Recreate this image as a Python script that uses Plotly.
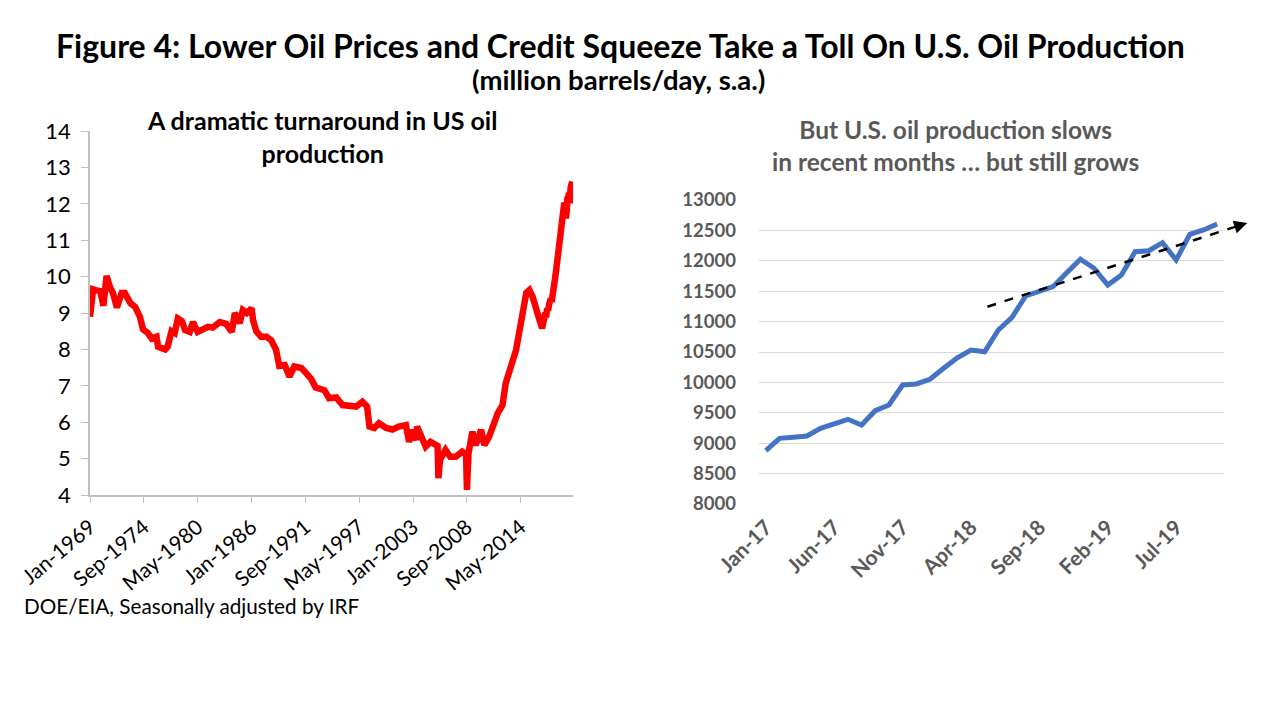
import pandas as pd
import plotly.graph_objects as go

# ---------------- Left panel data (million barrels/day) ----------------
left_dates = [
    "1969-01", "1969-05", "1969-09", "1970-02", "1970-06", "1970-08", "1970-10",
    "1971-02", "1971-06", "1971-11", "1972-05", "1972-09", "1973-04", "1973-10",
    "1974-04", "1974-08", "1975-02", "1975-07", "1976-01", "1976-03", "1976-12",
    "1977-03", "1977-08", "1977-12", "1978-04", "1978-09", "1979-01", "1979-07",
    "1979-11", "1980-05", "1980-12", "1981-06", "1981-12", "1982-09", "1983-05",
    "1983-12", "1984-04", "1984-10", "1985-02", "1985-07", "1986-01", "1986-03",
    "1986-07", "1987-01", "1987-08", "1988-02", "1988-08", "1988-12", "1989-07",
    "1990-01", "1990-07", "1991-04", "1991-10", "1992-04", "1992-10", "1993-09",
    "1994-03", "1994-12", "1995-08", "1996-04", "1997-01", "1997-09", "1998-03",
    "1998-06", "1998-12", "1999-06", "2000-03", "2000-11", "2001-07", "2002-04",
    "2002-08", "2002-12", "2003-05", "2003-06", "2003-11", "2004-05", "2004-11",
    "2005-05", "2005-08", "2005-09", "2005-11", "2006-06", "2006-12", "2007-07",
    "2008-03", "2008-08", "2008-09", "2008-11", "2009-04", "2009-08", "2010-03",
    "2010-07", "2011-01", "2011-12", "2012-06", "2012-10", "2013-05", "2013-11",
    "2014-03", "2014-08", "2014-12", "2015-04", "2015-08", "2016-02", "2016-08",
    "2016-12",
    "2017-01", "2017-02", "2017-03", "2017-04", "2017-05", "2017-06", "2017-07",
    "2017-08", "2017-09", "2017-10", "2017-11", "2017-12", "2018-01", "2018-02",
    "2018-03", "2018-04", "2018-05", "2018-06", "2018-07", "2018-08", "2018-09",
    "2018-10", "2018-11", "2018-12", "2019-01", "2019-02", "2019-03", "2019-04",
    "2019-05", "2019-06", "2019-07", "2019-08", "2019-09", "2019-10",
]
left_values = [
    8.90, 9.65, 9.62, 9.60, 9.20, 9.70, 10.02,
    9.72, 9.55, 9.15, 9.55, 9.55, 9.27, 9.17,
    8.90, 8.55, 8.45, 8.30, 8.35, 8.07, 8.00,
    8.07, 8.50, 8.45, 8.85, 8.78, 8.53, 8.48,
    8.75, 8.48, 8.58, 8.62, 8.60, 8.75, 8.70,
    8.48, 9.00, 8.72, 9.08, 9.00, 9.13, 8.80,
    8.50, 8.35, 8.35, 8.25, 7.99, 7.55, 7.57,
    7.25, 7.53, 7.49, 7.35, 7.20, 6.95, 6.88,
    6.66, 6.68, 6.47, 6.47, 6.43, 6.56, 6.43,
    5.88, 5.84, 5.97, 5.84, 5.80, 5.88, 5.92,
    5.46, 5.79, 5.51, 5.88, 5.60, 5.33, 5.46,
    5.37, 5.35, 4.46, 4.96, 5.24, 5.05, 5.05,
    5.19, 5.10, 4.14, 5.15, 5.74, 5.37, 5.79,
    5.37, 5.60, 6.25, 6.47, 7.07, 7.53, 7.98,
    8.45, 9.00, 9.55, 9.63, 9.45, 9.00, 8.58,
    9.00,
    8.88, 9.08, 9.10, 9.12, 9.25, 9.31, 9.39,
    9.30, 9.54, 9.63, 9.96, 9.97, 10.05, 10.23,
    10.41, 10.53, 10.51, 10.86, 11.07, 11.42, 11.51,
    11.57, 11.80, 12.03, 11.88, 11.60, 11.77, 12.15,
    12.17, 12.30, 12.01, 12.44, 12.51, 12.61,
]
left_ticks = ["Jan-1969", "Sep-1974", "May-1980", "Jan-1986", "Sep-1991",
              "May-1997", "Jan-2003", "Sep-2008", "May-2014"]
left_yticks = [4, 5, 6, 7, 8, 9, 10, 11, 12, 13, 14]

# ---------------- Right panel data (thousand barrels/day) ----------------
right_months = [
    "Jan-17", "Feb-17", "Mar-17", "Apr-17", "May-17", "Jun-17", "Jul-17",
    "Aug-17", "Sep-17", "Oct-17", "Nov-17", "Dec-17", "Jan-18", "Feb-18",
    "Mar-18", "Apr-18", "May-18", "Jun-18", "Jul-18", "Aug-18", "Sep-18",
    "Oct-18", "Nov-18", "Dec-18", "Jan-19", "Feb-19", "Mar-19", "Apr-19",
    "May-19", "Jun-19", "Jul-19", "Aug-19", "Sep-19", "Oct-19",
]
right_values = [
    8877, 9080, 9097, 9118, 9245, 9311, 9393,
    9300, 9535, 9628, 9957, 9974, 10051, 10232,
    10406, 10533, 10505, 10862, 11070, 11421, 11508,
    11574, 11804, 12025, 11877, 11602, 11766, 12150,
    12166, 12298, 12013, 12436, 12507, 12605,
]
right_ticks = ["Jan-17", "Jun-17", "Nov-17", "Apr-18", "Sep-18", "Feb-19", "Jul-19"]
right_yticks = [8000, 8500, 9000, 9500, 10000, 10500, 11000, 11500, 12000, 12500, 13000]
# trend arrow: (category index, value) of tail and head
trend_x = [16.2, 35.2]
trend_y = [11245, 12622]

FONT = "Lato"
GRAY = "#595959"
W, H = 1280, 719
PAGE = 8  # browser body margin that offsets the figure


def px(x):
    return (x - PAGE) / W


def py(y):
    return 1 - (y - PAGE) / H


left_dt = pd.to_datetime(left_dates, format="%Y-%m")
left_tickvals = pd.to_datetime(left_ticks, format="%b-%Y")

fig = go.Figure()
fig.add_trace(go.Scatter(
    x=left_dt, y=left_values, mode="lines",
    line=dict(color="#ff0000", width=6.5),
    xaxis="x", yaxis="y", showlegend=False,
))
fig.add_trace(go.Scatter(
    x=right_months, y=right_values, mode="lines",
    line=dict(color="#4472c4", width=5),
    xaxis="x2", yaxis="y2", showlegend=False,
))

# right panel axis ranges
r_xrange = [-0.5, len(right_months) - 0.5]
r_yrange = [right_yticks[0], right_yticks[-1]]


def xfrac(v):
    return (v - r_xrange[0]) / (r_xrange[1] - r_xrange[0])


def yfrac(v):
    return (v - r_yrange[0]) / (r_yrange[1] - r_yrange[0])


tx0, tx1 = xfrac(trend_x[0]), xfrac(trend_x[1])
ty0, ty1 = yfrac(trend_y[0]), yfrac(trend_y[1])
sx1 = tx0 + (tx1 - tx0) * 0.96
sy1 = ty0 + (ty1 - ty0) * 0.96
fig.add_shape(type="line", xref="x2 domain", yref="y2 domain",
              x0=tx0, y0=ty0, x1=sx1, y1=sy1,
              line=dict(color="black", width=2.5, dash="dash"))
fig.add_annotation(xref="x2 domain", yref="y2 domain", axref="x2 domain", ayref="y2 domain",
                   x=tx1, y=ty1, ax=tx0 + (tx1 - tx0) * 0.95, ay=ty0 + (ty1 - ty0) * 0.95,
                   showarrow=True, arrowhead=2, arrowsize=1.2, arrowwidth=2.2,
                   arrowcolor="black", text="")

fig.update_layout(
    width=W, height=H,
    margin=dict(l=0, r=0, t=0, b=0, autoexpand=False),
    paper_bgcolor="white", plot_bgcolor="white",
    font=dict(family=FONT, color="black"),
    xaxis=dict(
        domain=[px(90), px(573)], anchor="y", automargin=False,
        type="date", range=[pd.Timestamp("1969-01-01"), pd.Timestamp("2019-11-01")],
        tickvals=left_tickvals, ticktext=left_ticks, tickangle=-40,
        tickfont=dict(size=21, color="black", family=FONT),
        showgrid=False, zeroline=False,
        showline=True, linecolor="#bfbfbf", linewidth=1.5,
        ticks="outside", ticklen=6, tickcolor="#bfbfbf", ticklabelstandoff=4,
    ),
    yaxis=dict(
        domain=[py(495), py(131)], anchor="x", automargin=False,
        range=[4, 14], tickvals=left_yticks,
        tickfont=dict(size=22, color="black", family=FONT),
        showgrid=False, zeroline=False,
        showline=True, linecolor="#bfbfbf", linewidth=1.5,
        ticks="outside", ticklen=7, tickcolor="#bfbfbf", ticklabelstandoff=6,
    ),
    xaxis2=dict(
        domain=[px(759), px(1224)], anchor="y2", automargin=False,
        type="category", categoryorder="array", categoryarray=right_months,
        range=r_xrange, tickvals=right_ticks, tickangle=-45,
        tickfont=dict(size=21, color=GRAY, family=FONT, weight="bold"),
        showgrid=False, zeroline=False, showline=False, ticks="", ticklabelstandoff=6,
    ),
    yaxis2=dict(
        domain=[py(504), py(200)], anchor="x2", automargin=False,
        range=r_yrange, tickvals=right_yticks, tickformat="d",
        tickfont=dict(size=18.5, color=GRAY, family=FONT, weight="bold"),
        showgrid=True, gridcolor="#d9d9d9", gridwidth=1.2,
        zeroline=False, showline=False, ticks="", ticklabelstandoff=22,
    ),
)

anns = [
    dict(text="<b>Figure 4: Lower Oil Prices and Credit Squeeze Take a Toll On U.S. Oil Production</b>",
         x=620, y=45, size=32, color="black"),
    dict(text="<b>(million barrels/day, s.a.)</b>",
         x=618, y=79, size=27.5, color="black"),
    dict(text="<b>A dramatic turnaround in US oil<br>production</b>",
         x=322, y=137, size=25, color="black"),
    dict(text="<b>But U.S. oil production slows<br>in recent months … but still grows</b>",
         x=955, y=145, size=24.5, color=GRAY),
]
for a in anns:
    fig.add_annotation(xref="paper", yref="paper", x=px(a["x"]), y=py(a["y"]),
                       xanchor="center", yanchor="middle", showarrow=False,
                       text=a["text"], font=dict(size=a["size"], color=a["color"], family=FONT))
fig.add_annotation(xref="paper", yref="paper", x=px(22), y=py(606),
                   xanchor="left", yanchor="middle", showarrow=False,
                   text="DOE/EIA, Seasonally adjusted by IRF",
                   font=dict(size=20.7, color="black", family=FONT))

fig.write_html("out.html")
